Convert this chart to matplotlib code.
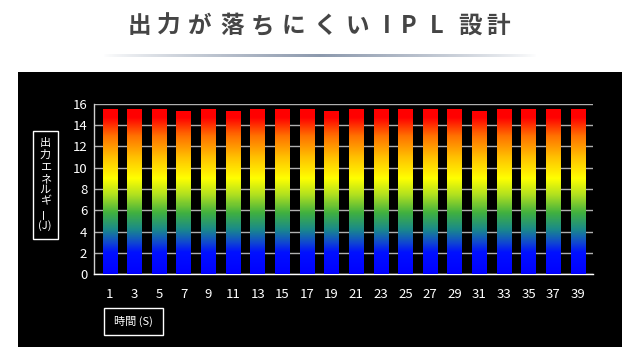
import numpy as np
import matplotlib
matplotlib.use("Agg")
import matplotlib.pyplot as plt
from matplotlib.colors import LinearSegmentedColormap
from matplotlib.patches import Rectangle

plt.rcParams['font.family'] = ['Noto Sans CJK JP', 'DejaVu Sans']

# ---- data ----
title = "出力が落ちにくいIPL 設計"
seconds = [1, 3, 5, 7, 9, 11, 13, 15, 17, 19, 21, 23, 25, 27, 29, 31, 33, 35, 37, 39]
energy = [15.4, 15.4, 15.4, 15.2, 15.4, 15.2, 15.4, 15.4, 15.4, 15.2,
          15.4, 15.4, 15.4, 15.4, 15.4, 15.2, 15.4, 15.4, 15.4, 15.4]
y_ticks = [0, 2, 4, 6, 8, 10, 12, 14, 16]
ylabel_chars = ["出", "力", "エ", "ネ", "ル", "ギ", "ー", "(J)"]
xlabel = "時間 (S)"

W, H = 640, 360
fig = plt.figure(figsize=(6.4, 3.6), dpi=100)
fig.patch.set_facecolor("white")

def fx(px):
    return px / W

def fy(py):
    return 1 - py / H

# black panel
fig.patches.append(Rectangle((fx(18), fy(347)), fx(622) - fx(18), fy(72) - fy(347),
                             transform=fig.transFigure, facecolor="black",
                             edgecolor="none", zorder=-5))

# title, spaced characters
title_x = [139, 169, 200, 232, 262, 293, 325, 357, 387, 409, 437, None, 470, 498]
for ch, xp in zip(title, title_x):
    if xp is None or ch == " ":
        continue
    fig.text(fx(xp), fy(26), ch, ha="center", va="center", fontsize=17,
             color="#454545", fontweight="bold")

# gradient underline
lax = fig.add_axes([fx(103), fy(57.5), fx(537) - fx(103), 3.5 / H])
lax.axis("off")
t = np.linspace(0, 1, 400)
alpha = np.clip(1 - np.abs(t - 0.5) * 2, 0, 1) ** 0.8
grad = np.zeros((1, 400, 4))
grad[..., 0] = 0.55
grad[..., 1] = 0.60
grad[..., 2] = 0.68
grad[..., 3] = alpha
lax.imshow(grad, aspect="auto", extent=[0, 1, 0, 1])

# main axes
ax = fig.add_axes([fx(94.3), fy(274.3), fx(593) - fx(94.3), (274.3 - 103.7) / H])
ax.set_zorder(5)
ax.set_facecolor("black")

cmap = LinearSegmentedColormap.from_list("ipl", [
    (0.00, "#0000ff"),
    (0.13, "#0010ff"),
    (0.19, "#1048d0"),
    (0.27, "#1a8a8a"),
    (0.37, "#40b040"),
    (0.48, "#b0e020"),
    (0.58, "#ffff00"),
    (0.71, "#ffc000"),
    (0.84, "#ff7000"),
    (0.95, "#ff0000"),
    (1.00, "#ff0000"),
])

bw = 1.2
vmax = max(energy)
for xv, hv in zip(seconds, energy):
    g = np.linspace(0, hv, 256).reshape(-1, 1)
    ax.imshow(g, extent=[xv - bw / 2, xv + bw / 2, 0, hv], origin="lower",
              aspect="auto", cmap=cmap, vmin=0, vmax=vmax, zorder=3,
              interpolation="bilinear")

ax.set_xlim(-0.27, 40.22)
ax.set_ylim(0, 16)
ax.set_yticks(y_ticks)
ax.set_xticks(seconds)
ax.set_xticklabels([str(s) for s in seconds])
ax.yaxis.grid(True, color="#b0b0b0", linewidth=1.0, zorder=1)
ax.set_axisbelow(True)
for s in ["top", "right"]:
    ax.spines[s].set_visible(False)
ax.spines["left"].set_color("#d0d0d0")
ax.spines["bottom"].set_color("#ffffff")
ax.spines["left"].set_linewidth(1.0)
ax.spines["bottom"].set_linewidth(1.0)
ax.tick_params(axis="both", length=0, colors="white", labelsize=9.5)
ax.tick_params(axis="x", pad=10)
ax.tick_params(axis="y", pad=5)

# y label box with vertical text
fig.patches.append(Rectangle((fx(32.7), fy(239)), fx(57.7) - fx(32.7), fy(130.7) - fy(239),
                             transform=fig.transFigure, facecolor="black",
                             edgecolor="white", linewidth=1.0, zorder=2))
ylabel_y = [143, 155, 167, 179, 190, 201, 213, 226]
for ch, yp in zip(ylabel_chars, ylabel_y):
    fig.text(fx(45.2), fy(yp), ch, ha="center", va="center", fontsize=8,
             color="white", rotation=90 if ch == "ー" else 0, zorder=3)

# x label box
fig.patches.append(Rectangle((fx(104), fy(334.5)), fx(163) - fx(104), fy(308) - fy(334.5),
                             transform=fig.transFigure, facecolor="black",
                             edgecolor="white", linewidth=1.0, zorder=2))
fig.text(fx(133.5), fy(321.5), xlabel, ha="center", va="center", fontsize=8,
         color="white", zorder=3)

fig.savefig("out.png", dpi=100, facecolor=fig.get_facecolor())
